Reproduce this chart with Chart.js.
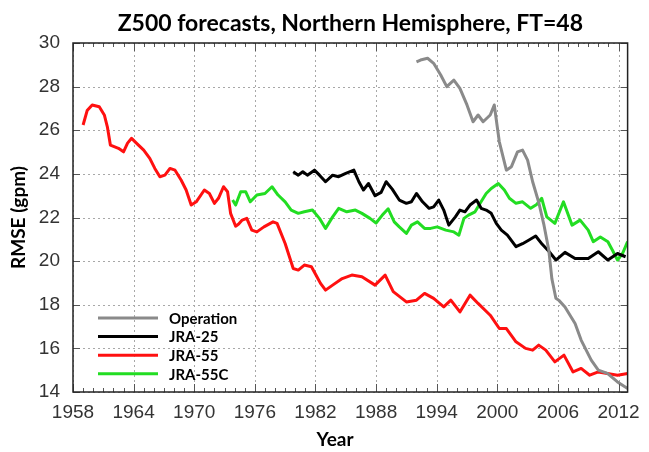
<!DOCTYPE html>
<html>
<head>
<meta charset="utf-8">
<script src="https://cdn.jsdelivr.net/npm/chart.js@4.4.1/dist/chart.umd.min.js"></script>
<style>
  html, body { margin: 0; padding: 0; background: #fff; }
  #wrap { width: 649px; height: 452px; }
</style>
</head>
<body>
<div id="wrap"><canvas id="rmseChart"></canvas></div>
<script>
// tick labels
const yearTicks = [1958, 1964, 1970, 1976, 1982, 1988, 1994, 2000, 2006, 2012];
const rmseTicks = [14, 16, 18, 20, 22, 24, 26, 28, 30];

// Operation (grey)
const opYears = [1992.0, 1992.4, 1993.1, 1993.7, 1994.4, 1995.0, 1995.7, 1996.3, 1997.0, 1997.6,
  1998.1, 1998.6, 1999.3, 1999.7, 2000.2, 2000.9, 2001.4, 2002.0, 2002.5, 2003.0,
  2003.5, 2004.1, 2004.6, 2005.1, 2005.4, 2005.8, 2006.1, 2006.7, 2007.7, 2008.3,
  2009.3, 2010.0, 2010.9, 2011.9, 2012.9];
const opRmse = [29.14, 29.22, 29.3, 29.07, 28.53, 28.0, 28.3, 27.92, 27.16, 26.39,
  26.7, 26.39, 26.7, 27.16, 25.47, 24.17, 24.33, 25.01, 25.09, 24.63,
  23.64, 22.7, 21.7, 20.5, 19.2, 18.3, 18.2, 17.9, 17.14, 16.38,
  15.46, 15.0, 14.85, 14.46, 14.16];

// JRA-25 (black)
const jra25Years = [1979.8, 1980.3, 1980.75, 1981.2, 1981.9, 1982.4, 1983.0, 1983.7, 1984.3, 1985.0,
  1985.8, 1986.3, 1986.75, 1987.25, 1987.9, 1988.5, 1989.0, 1989.6, 1990.3, 1991.0,
  1991.5, 1992.0, 1992.6, 1993.25, 1993.7, 1994.2, 1994.7, 1995.2, 1995.85, 1996.3,
  1996.8, 1997.3, 1997.95, 1998.4, 1998.9, 1999.4, 1999.9, 2000.4, 2001.0, 2001.85,
  2002.5, 2003.1, 2003.8, 2004.45, 2005.1, 2005.8, 2006.7, 2007.7, 2009.0, 2010.0,
  2010.95, 2011.9, 2012.7];
const jra25Rmse = [24.1, 23.94, 24.1, 23.94, 24.17, 23.94, 23.64, 23.94, 23.87, 24.02,
  24.17, 23.64, 23.26, 23.56, 23.0, 23.15, 23.64, 23.3, 22.8, 22.65,
  22.72, 23.1, 22.72, 22.42, 22.49, 22.8, 22.34, 21.65, 22.03, 22.34,
  22.26, 22.57, 22.8, 22.42, 22.34, 22.19, 21.73, 21.42, 21.19, 20.66,
  20.8, 20.96, 21.15, 20.77, 20.45, 20.05, 20.4, 20.12, 20.12, 20.43,
  20.05, 20.35, 20.2];

// JRA-55 (red)
const jra55Years = [1959.0, 1959.4, 1959.9, 1960.6, 1961.1, 1961.4, 1961.7, 1962.5, 1963.0, 1963.4,
  1963.8, 1964.3, 1965.0, 1965.6, 1966.1, 1966.6, 1967.1, 1967.6, 1968.1, 1968.7,
  1969.2, 1969.7, 1970.2, 1971.0, 1971.5, 1972.0, 1972.4, 1972.9, 1973.3, 1973.6,
  1974.1, 1974.4, 1974.75, 1975.2, 1975.7, 1976.2, 1976.9, 1977.8, 1978.2, 1979.0,
  1979.8, 1980.3, 1980.9, 1981.6, 1982.05, 1982.5, 1983.0, 1983.7, 1984.65, 1985.6,
  1986.6, 1987.9, 1988.9, 1989.7, 1991.0, 1992.0, 1992.8, 1993.7, 1994.7, 1995.4,
  1996.3, 1997.3, 1998.1, 1999.3, 2000.2, 2000.9, 2001.85, 2002.8, 2003.5, 2004.1,
  2004.8, 2005.7, 2006.6, 2007.5, 2008.3, 2009.15, 2010.0, 2010.9, 2011.9, 2012.9];
const jra55Rmse = [26.24, 26.9, 27.16, 27.08, 26.7, 26.16, 25.32, 25.17, 25.01, 25.41,
  25.63, 25.4, 25.09, 24.71, 24.25, 23.87, 23.94, 24.25, 24.17, 23.72,
  23.26, 22.57, 22.72, 23.26, 23.1, 22.65, 22.88, 23.41, 23.18, 22.19,
  21.6, 21.7, 21.88, 21.96, 21.42, 21.34, 21.57, 21.8, 21.73, 20.81,
  19.66, 19.59, 19.82, 19.74, 19.36, 18.98, 18.67, 18.9, 19.2, 19.36,
  19.28, 18.9, 19.36, 18.6, 18.13, 18.21, 18.52, 18.29, 17.9, 18.21,
  17.67, 18.44, 18.06, 17.52, 16.91, 16.91, 16.3, 16.0, 15.92, 16.15,
  15.92, 15.38, 15.69, 14.92, 15.08, 14.77, 14.92, 14.85, 14.77, 14.85];

// JRA-55C (green)
const jra55cYears = [1973.8, 1974.1, 1974.6, 1975.1, 1975.55, 1976.2, 1977.0, 1977.7, 1978.3, 1979.0,
  1979.6, 1980.3, 1980.9, 1981.7, 1982.4, 1983.0, 1983.7, 1984.3, 1985.1, 1985.95,
  1986.6, 1987.4, 1988.0, 1988.6, 1989.2, 1989.8, 1990.3, 1991.0, 1991.5, 1992.1,
  1992.8, 1993.4, 1994.05, 1994.9, 1995.7, 1996.2, 1996.7, 1997.15, 1997.8, 1998.3,
  1998.9, 1999.4, 2000.1, 2000.7, 2001.2, 2001.85, 2002.5, 2003.3, 2003.9, 2004.4,
  2004.9, 2005.7, 2006.55, 2007.4, 2008.2, 2009.0, 2009.5, 2010.2, 2010.95, 2011.4,
  2011.9, 2012.4, 2012.9];
const jra55cRmse = [22.8, 22.57, 23.18, 23.18, 22.72, 23.03, 23.1, 23.41, 23.03, 22.72,
  22.34, 22.19, 22.26, 22.34, 21.96, 21.5, 22.03, 22.42, 22.26, 22.34,
  22.19, 21.96, 21.75, 22.1, 22.4, 21.8, 21.57, 21.27, 21.65, 21.8,
  21.5, 21.5, 21.57, 21.42, 21.34, 21.19, 21.96, 22.11, 22.26, 22.65,
  23.1, 23.33, 23.56, 23.26, 22.88, 22.65, 22.72, 22.42, 22.6, 22.88,
  22.03, 21.73, 22.72, 21.65, 21.88, 21.42, 20.89, 21.11, 20.89, 20.5,
  20.05, 20.35, 20.9];

function toPoints(xs, ys) {
    return xs.map((x, i) => ({ x: x, y: ys[i] }));
}

function makeSeries(label, xs, ys, color) {
    return {
        label: label,
        data: toPoints(xs, ys),
        borderColor: color,
        backgroundColor: color,
        borderWidth: 3,
        pointRadius: 0,
        tension: 0,
        borderJoinStyle: 'round',
        fill: false
    };
}

const labelFont = 'Lato, "Open Sans", sans-serif';
const tickFont = '"Liberation Sans", Arial, sans-serif';

// dotted grid under the lines (Chart.js draws it solid here)
const dottedGrid = {
    id: 'dottedGrid',
    beforeDatasetsDraw(chart) {
        const ctx = chart.ctx;
        const area = chart.chartArea;
        const xs = chart.scales.x;
        const ys = chart.scales.y;
        ctx.save();
        ctx.strokeStyle = '#a8a8a8';
        ctx.lineWidth = 1;
        ctx.setLineDash([2, 3]);
        ctx.beginPath();
        yearTicks.forEach(yr => {
            const px = Math.round(xs.getPixelForValue(yr)) + 0.5;
            ctx.moveTo(px, area.bottom);
            ctx.lineTo(px, area.top);
        });
        rmseTicks.forEach(v => {
            const py = Math.round(ys.getPixelForValue(v)) + 0.5;
            ctx.moveTo(area.left, py);
            ctx.lineTo(area.right, py);
        });
        ctx.stroke();
        ctx.restore();
    }
};

// frame with inward ticks, the in-plot legend and the x title
const frameAndLegend = {
    id: 'frameAndLegend',
    afterDatasetsDraw(chart) {
        const ctx = chart.ctx;
        const area = chart.chartArea;
        const xs = chart.scales.x;
        const ys = chart.scales.y;

        ctx.save();
        ctx.strokeStyle = '#555';
        ctx.lineWidth = 1;
        ctx.beginPath();
        for (let yr = yearTicks[0]; yr <= yearTicks[yearTicks.length - 1]; yr++) {
            const px = Math.round(xs.getPixelForValue(yr)) + 0.5;
            const len = yearTicks.includes(yr) ? 8 : 4;
            ctx.moveTo(px, area.bottom);
            ctx.lineTo(px, area.bottom - len);
            ctx.moveTo(px, area.top);
            ctx.lineTo(px, area.top + len);
        }
        rmseTicks.forEach(v => {
            const py = Math.round(ys.getPixelForValue(v)) + 0.5;
            ctx.moveTo(area.left, py);
            ctx.lineTo(area.left + 7, py);
            ctx.moveTo(area.right, py);
            ctx.lineTo(area.right - 7, py);
        });
        ctx.stroke();

        ctx.strokeStyle = '#222';
        ctx.lineWidth = 1.5;
        ctx.strokeRect(area.left, area.top, area.right - area.left, area.bottom - area.top);

        // legend inside the plot, bottom left
        const lx0 = area.left + 25;
        const lx1 = area.left + 85;
        let ly = area.bottom - 74;
        ctx.font = 'bold 15px ' + labelFont;
        ctx.textBaseline = 'middle';
        ctx.textAlign = 'left';
        chart.data.datasets.forEach(ds => {
            ctx.strokeStyle = ds.borderColor;
            ctx.lineWidth = 3;
            ctx.beginPath();
            ctx.moveTo(lx0, ly);
            ctx.lineTo(lx1, ly);
            ctx.stroke();
            ctx.fillStyle = '#000';
            ctx.fillText(ds.label, lx1 + 11, ly + 1);
            ly += 18.6;
        });

        // x axis title
        ctx.font = 'bold 19px ' + labelFont;
        ctx.textAlign = 'center';
        ctx.fillStyle = '#000';
        ctx.fillText('Year', 335, 440);
        ctx.restore();
    }
};

const ctx = document.getElementById('rmseChart').getContext('2d');
const rmseChart = new Chart(ctx, {
    type: 'line',
    data: {
        datasets: [
            makeSeries('Operation', opYears, opRmse, '#8a8a8a'),
            makeSeries('JRA-25', jra25Years, jra25Rmse, '#000000'),
            makeSeries('JRA-55', jra55Years, jra55Rmse, '#ff1010'),
            makeSeries('JRA-55C', jra55cYears, jra55cRmse, '#22dd22')
        ]
    },
    options: {
        responsive: true,
        maintainAspectRatio: false,
        animation: false,
        devicePixelRatio: 1,
        layout: { padding: { left: 0, right: 12, top: 0, bottom: 0 } },
        plugins: {
            legend: { display: false },
            tooltip: { enabled: false },
            title: {
                display: true,
                fullSize: false,
                text: 'Z500 forecasts, Northern Hemisphere, FT=48',
                color: '#000',
                font: { family: labelFont, size: 23, weight: 'bold' },
                padding: { top: 10, bottom: 5.4 }
            }
        },
        scales: {
            x: {
                type: 'linear',
                min: 1958,
                max: 2012.9,
                afterBuildTicks: scale => {
                    scale.ticks = yearTicks.map(v => ({ value: v }));
                },
                afterFit: scale => { scale.height = 60; },
                ticks: {
                    autoSkip: false,
                    maxRotation: 0,
                    padding: 9,
                    color: '#333',
                    font: { family: tickFont, size: 19 },
                    callback: v => String(v)
                },
                grid: { display: false, drawTicks: false },
                border: { display: false }
            },
            y: {
                min: 14,
                max: 30,
                afterBuildTicks: scale => {
                    scale.ticks = rmseTicks.map(v => ({ value: v }));
                },
                afterFit: scale => { scale.width = 73; },
                ticks: {
                    padding: 13,
                    color: '#333',
                    font: { family: tickFont, size: 19 },
                    callback: v => String(v)
                },
                grid: { display: false, drawTicks: false },
                border: { display: false },
                title: {
                    display: true,
                    text: 'RMSE (gpm)',
                    color: '#000',
                    font: { family: labelFont, size: 19, weight: 'bold' },
                    padding: { top: 7, bottom: 0 }
                }
            }
        }
    },
    plugins: [dottedGrid, frameAndLegend]
});
</script>
</body>
</html>
